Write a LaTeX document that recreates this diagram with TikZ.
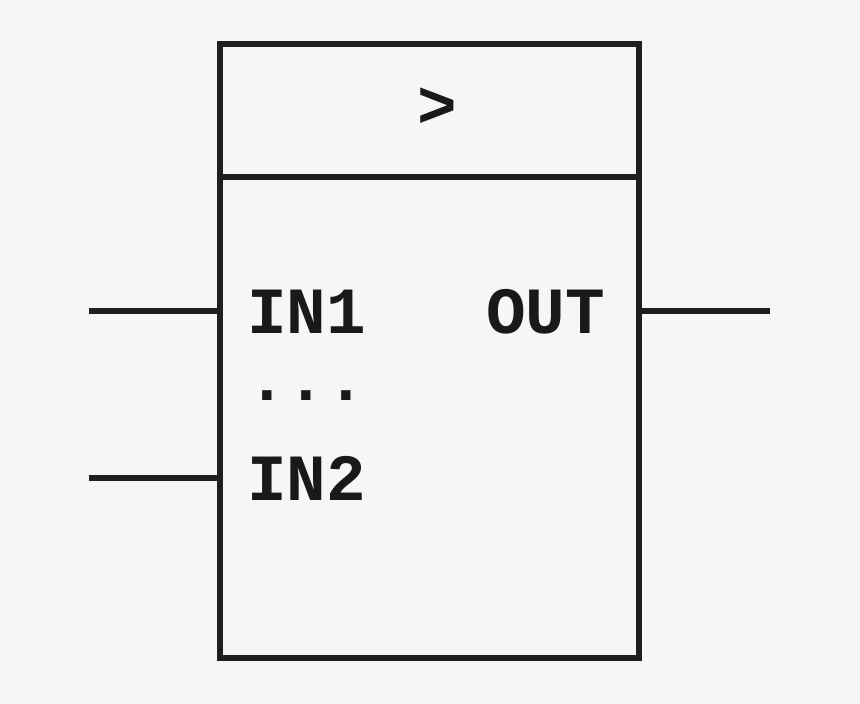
\documentclass[tikz,border=0pt]{standalone}
\usepackage{fontspec}
\setmonofont{Liberation Mono}
\begin{document}
\begin{tikzpicture}[x=1pt,y=-1pt,
  wire/.style={line width=6pt,draw=black!88},
  lbl/.style={font=\ttfamily\bfseries\fontsize{66}{66}\selectfont,inner sep=0pt,text=black!90}]
\fill[fill={rgb,255:red,246;green,246;blue,246}] (0,0) rectangle (860,704);
\useasboundingbox (0,0) rectangle (860,704);
\node[draw=black!88,line width=6pt,minimum width=419pt,minimum height=614pt,inner sep=0pt] (box) at (429.5,351) {};
\coordinate (d1) at (220,177);
\coordinate (d2) at (639,177);
\draw[wire] (d1) -- (d2);
\coordinate (a1) at (89,311); \coordinate (b1) at (220,311);
\coordinate (a2) at (89,478); \coordinate (b2) at (220,478);
\coordinate (c1) at (639,311); \coordinate (c2) at (770,311);
\draw[wire] (a1) -- (b1);
\draw[wire] (a2) -- (b2);
\draw[wire] (c1) -- (c2);
\node[lbl,anchor=center] (gt) at (437,108) {>};
\node[lbl,anchor=base west] (in1) at (247,333) {IN1};
\node[lbl,anchor=base west] (out) at (486,333) {OUT};
\node[lbl,anchor=base west] (dots) at (247,400) {...};
\node[lbl,anchor=base west] (in2) at (247,500) {IN2};
\end{tikzpicture}
\end{document}
